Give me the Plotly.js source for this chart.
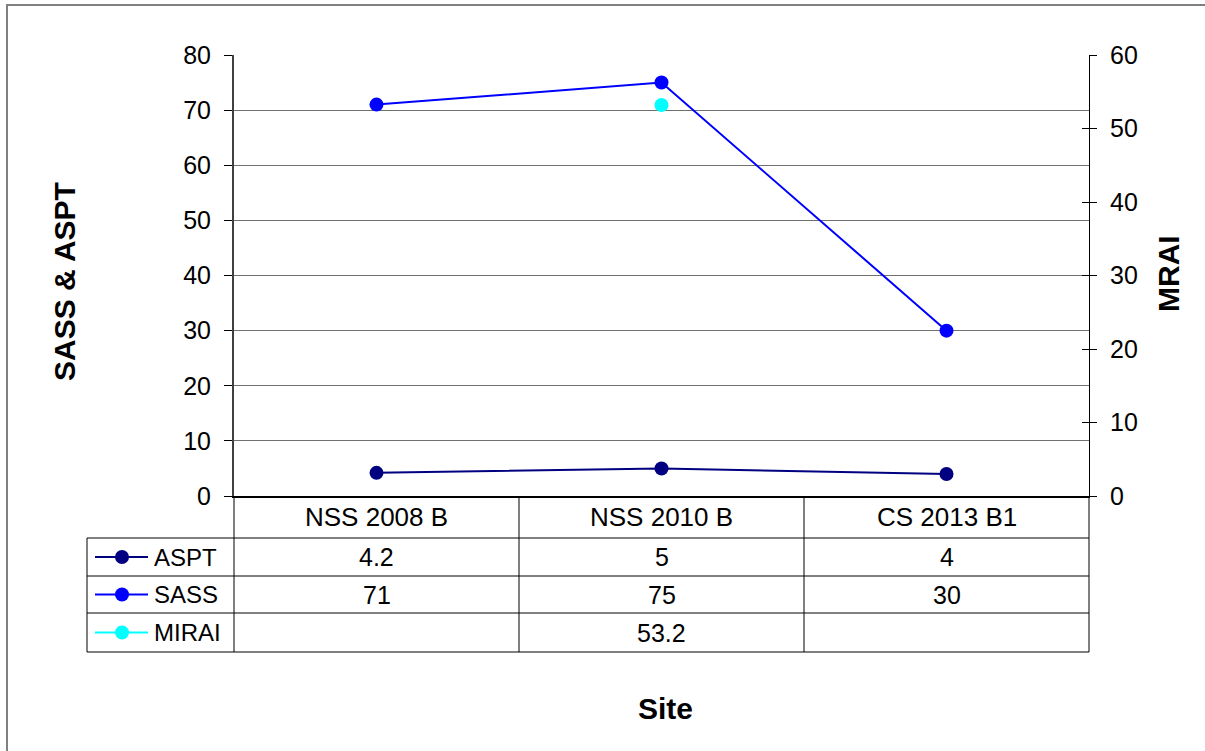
<!DOCTYPE html>
<html>
<head>
<meta charset="utf-8">
<script src="https://cdn.plot.ly/plotly-3.0.1.min.js"></script>
<style>
  html, body { margin: 0; padding: 0; background: #fff; }
  #chart { width: 1205px; height: 751px; }
</style>
</head>
<body>
<div id="chart"></div>
<script>
// Sites sampled and the biotic index scores at each
const sites = ['NSS 2008 B', 'NSS 2010 B', 'CS 2013 B1'];
const aspt = [4.2, 5, 4];
const sass = [71, 75, 30];
const mirai = [null, 53.2, null];

const seriesNames = ['ASPT', 'SASS', 'MIRAI'];
const seriesColors = ['#000080', '#0000FF', '#00FFFF'];
const seriesValues = [aspt, sass, mirai];

const leftTicks = [0, 10, 20, 30, 40, 50, 60, 70, 80];
const rightTicks = [0, 10, 20, 30, 40, 50, 60];

const FONT = 'Liberation Sans, Arial, sans-serif';

const W = 1205, H = 751;
const M = { l: 234, r: 116, t: 55, b: 255 };
const plotW = W - M.l - M.r;
const plotH = H - M.t - M.b;

// pixel -> paper helpers for the data table under the plot
const px = x => (x - M.l) / plotW;
const py = y => (H - M.b - y) / plotH;

const rowEdges = [496, 538, 576, 613, 652];
const rowMid = i => py((rowEdges[i] + rowEdges[i + 1]) / 2);
const tableLeft = 87;

const traces = [
  { x: sites, y: aspt, name: 'ASPT', type: 'scatter', mode: 'lines+markers',
    line: { color: seriesColors[0], width: 2 }, marker: { color: seriesColors[0], size: 14 },
    yaxis: 'y', cliponaxis: false },
  { x: sites, y: sass, name: 'SASS', type: 'scatter', mode: 'lines+markers',
    line: { color: seriesColors[1], width: 2 }, marker: { color: seriesColors[1], size: 14 },
    yaxis: 'y', cliponaxis: false },
  { x: sites, y: mirai, name: 'MIRAI', type: 'scatter', mode: 'lines+markers',
    line: { color: seriesColors[2], width: 2 }, marker: { color: seriesColors[2], size: 14 },
    yaxis: 'y2', cliponaxis: false }
];

const shapes = [];
const annotations = [];
const lineCol = '#000000';

// outer chart frame
shapes.push({ type: 'rect', xref: 'paper', yref: 'paper',
  x0: px(7), x1: px(1215), y0: py(5), y1: py(770),
  line: { color: '#808080', width: 2 }, fillcolor: 'rgba(0,0,0,0)', layer: 'below' });

// table horizontal rules
rowEdges.forEach((y, i) => {
  if (i === 0) return;
  shapes.push({ type: 'line', xref: 'paper', yref: 'paper',
    x0: px(tableLeft), x1: 1, y0: py(y), y1: py(y),
    line: { color: lineCol, width: 1 } });
});
// table vertical rules
shapes.push({ type: 'line', xref: 'paper', yref: 'paper',
  x0: px(tableLeft), x1: px(tableLeft), y0: py(rowEdges[1]), y1: py(rowEdges[4]),
  line: { color: lineCol, width: 1 } });
for (let k = 0; k <= sites.length; k++) {
  shapes.push({ type: 'line', xref: 'paper', yref: 'paper',
    x0: k / sites.length, x1: k / sites.length, y0: 0, y1: py(rowEdges[4]),
    line: { color: lineCol, width: 1 } });
}

// category header cells
sites.forEach(s => {
  annotations.push({ x: s, xref: 'x', y: rowMid(0), yref: 'paper', text: s,
    showarrow: false, xanchor: 'center', yanchor: 'middle',
    font: { family: FONT, size: 26, color: '#000' } });
});

// legend keys and value cells
seriesNames.forEach((name, r) => {
  const ym = rowMid(r + 1);
  shapes.push({ type: 'line', xref: 'paper', yref: 'paper',
    x0: px(95), x1: px(148), y0: ym, y1: ym,
    line: { color: seriesColors[r], width: 2 } });
  shapes.push({ type: 'circle', xref: 'paper', yref: 'paper',
    xsizemode: 'pixel', ysizemode: 'pixel', xanchor: px(122), yanchor: ym,
    x0: -7, x1: 7, y0: -7, y1: 7,
    fillcolor: seriesColors[r], line: { color: seriesColors[r], width: 0 } });
  annotations.push({ x: px(152), xref: 'paper', y: ym, yref: 'paper', text: name,
    showarrow: false, xanchor: 'left', yanchor: 'middle',
    font: { family: FONT, size: 24, color: '#000' } });
  seriesValues[r].forEach((v, i) => {
    if (v === null) return;
    annotations.push({ x: sites[i], xref: 'x', y: ym, yref: 'paper', text: String(v),
      showarrow: false, xanchor: 'center', yanchor: 'middle',
      font: { family: FONT, size: 25, color: '#000' } });
  });
});

// axis titles
annotations.push({ x: px(64), xref: 'paper', y: py(282), yref: 'paper', text: '<b>SASS & ASPT</b>',
  textangle: -90, showarrow: false, xanchor: 'center', yanchor: 'middle',
  font: { family: FONT, size: 30, color: '#000' } });
annotations.push({ x: px(1168), xref: 'paper', y: py(274), yref: 'paper', text: '<b>MRAI</b>',
  textangle: -90, showarrow: false, xanchor: 'center', yanchor: 'middle',
  font: { family: FONT, size: 30, color: '#000' } });
annotations.push({ x: px(665), xref: 'paper', y: py(708), yref: 'paper', text: '<b>Site</b>',
  showarrow: false, xanchor: 'center', yanchor: 'middle',
  font: { family: FONT, size: 30, color: '#000' } });

const layout = {
  width: W, height: H,
  margin: M,
  paper_bgcolor: '#ffffff', plot_bgcolor: '#ffffff',
  showlegend: false,
  font: { family: FONT, size: 25, color: '#000' },
  xaxis: {
    type: 'category', range: [-0.5, 2.5],
    showticklabels: false, ticks: '', showgrid: false, zeroline: false,
    showline: true, linecolor: '#000', linewidth: 2, mirror: false
  },
  yaxis: {
    range: [0, 80], tickvals: leftTicks, ticktext: leftTicks.map(String),
    ticks: 'outside', ticklen: 8, tickcolor: '#000', tickwidth: 1,
    showgrid: true, gridcolor: '#707070', gridwidth: 1,
    zeroline: false, showline: true, linecolor: '#404040', linewidth: 2,
    tickfont: { family: FONT, size: 25, color: '#000' }, ticklabelstandoff: 8
  },
  yaxis2: {
    range: [0, 60], overlaying: 'y', side: 'right',
    tickvals: rightTicks, ticktext: rightTicks.map(String),
    ticks: 'outside', ticklen: 7, tickcolor: '#000', tickwidth: 1,
    showgrid: false, zeroline: false, showline: true, linecolor: '#000', linewidth: 1,
    tickfont: { family: FONT, size: 25, color: '#000' }, ticklabelstandoff: 8
  },
  yaxis3: {
    range: [0, 60], overlaying: 'y', side: 'right',
    tickvals: rightTicks, showticklabels: false,
    ticks: 'inside', ticklen: 7, tickcolor: '#000', tickwidth: 1,
    showgrid: false, zeroline: false, showline: false
  },
  shapes: shapes,
  annotations: annotations
};

// empty trace so the inside-tick axis is drawn
traces.push({ x: [], y: [], type: 'scatter', yaxis: 'y3', hoverinfo: 'skip', showlegend: false });

Plotly.newPlot('chart', traces, layout, { displayModeBar: false, staticPlot: true });
</script>
</body>
</html>
